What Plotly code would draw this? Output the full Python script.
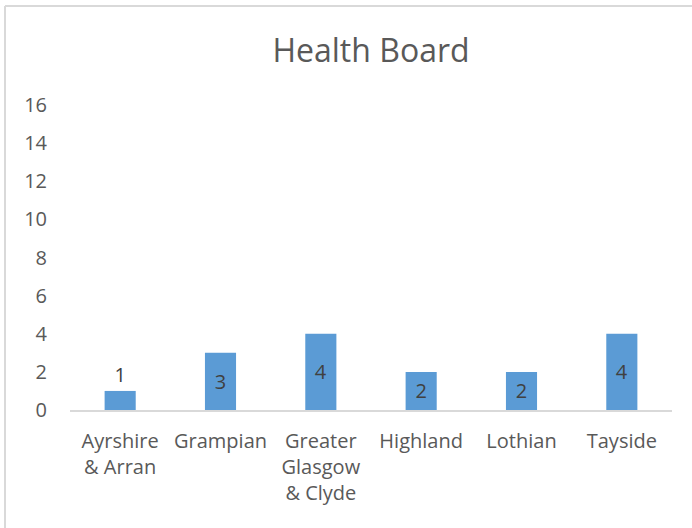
import plotly.graph_objects as go

categories = ["Ayrshire<br>& Arran", "Grampian", "Greater<br>Glasgow<br>& Clyde", "Highland", "Lothian", "Tayside"]
values = [1, 3, 4, 2, 2, 4]
y_ticks = [0, 2, 4, 6, 8, 10, 12, 14, 16]

FONT = "Open Sans"
GRAY = "#595959"
LABEL = "#404040"

fig = go.Figure(go.Bar(
    x=categories, y=values,
    marker=dict(color="#5b9bd5", line=dict(width=0)),
    text=[str(v) for v in values],
    textposition=["outside" if v < 2 else "inside" for v in values],
    insidetextanchor="middle",
    textangle=0,
    constraintext="none",
    textfont=dict(family=FONT, size=20, color=LABEL),
    outsidetextfont=dict(family=FONT, size=20, color=LABEL),
    insidetextfont=dict(family=FONT, size=20, color=LABEL),
    cliponaxis=False,
))

fig.update_layout(
    width=692, height=528,
    margin=dict(l=70, r=20, t=105, b=118),
    paper_bgcolor="white", plot_bgcolor="white",
    bargap=0.69,
    showlegend=False,
    title=dict(text="Health Board", x=0.5, xanchor="center", xref="paper",
               y=1 - 51 / 528, yref="container", yanchor="middle",
               font=dict(family=FONT, size=32, color=GRAY)),
    font=dict(family=FONT, color=GRAY),
)

fig.update_xaxes(
    showgrid=False, showline=True, linecolor="#d9d9d9", linewidth=1.5,
    ticks="", ticklabelstandoff=12,
    tickfont=dict(family=FONT, size=20, color=GRAY),
    zeroline=False,
)
fig.update_yaxes(
    range=[0, 16], tickvals=y_ticks, showgrid=False, zeroline=False,
    showline=False, ticks="", ticklabelstandoff=22,
    tickfont=dict(family=FONT, size=20, color=GRAY),
)

# Outer chart frame (left and top edges visible)
fig.add_shape(type="line", xref="paper", yref="paper",
              x0=(5 - 70) / 602, x1=(5 - 70) / 602, y0=(410 - 540) / 305, y1=(410 - 6) / 305,
              line=dict(color="#d9d9d9", width=2))
fig.add_shape(type="line", xref="paper", yref="paper",
              x0=(5 - 70) / 602, x1=(700 - 70) / 602, y0=(410 - 6) / 305, y1=(410 - 6) / 305,
              line=dict(color="#d9d9d9", width=2))

fig.write_html("out.html", config={"displayModeBar": False},
               post_script="document.body.style.margin='0';")
